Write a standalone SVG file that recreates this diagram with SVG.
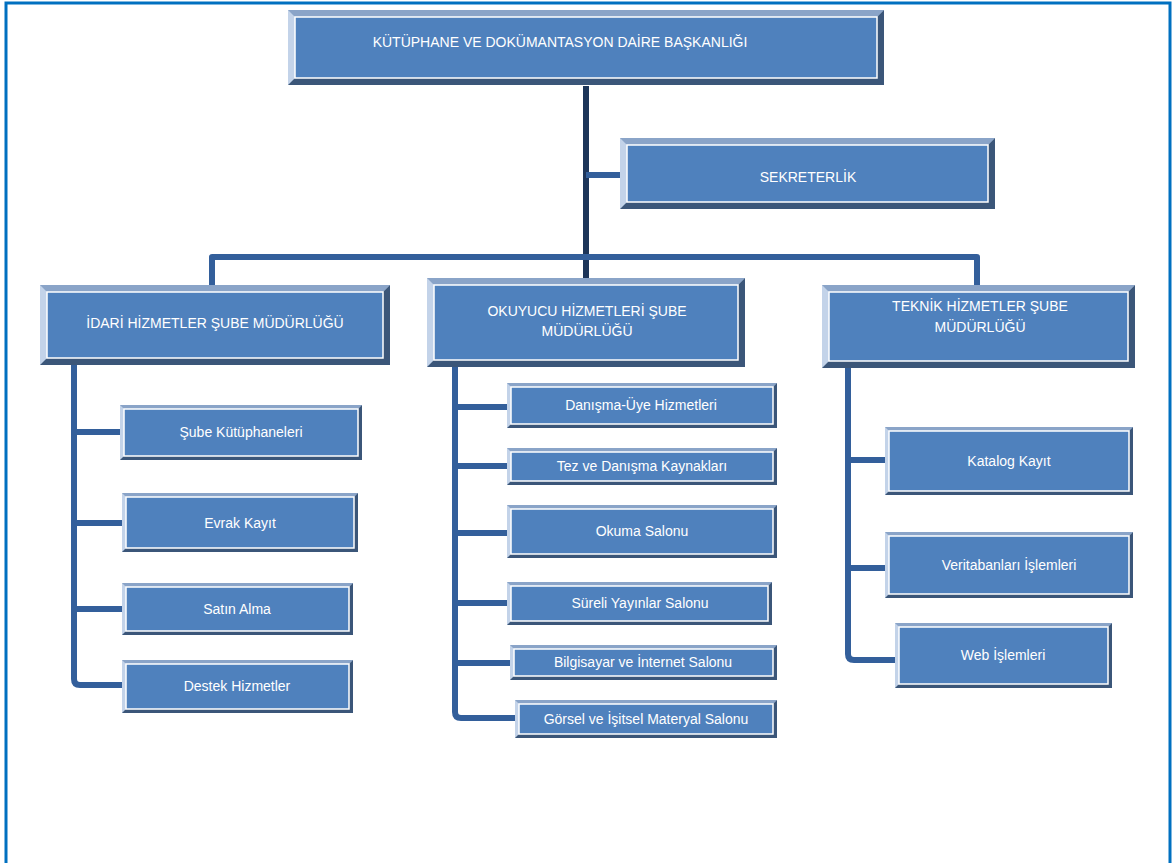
<svg xmlns="http://www.w3.org/2000/svg" width="1173" height="863" viewBox="0 0 1173 863">
<style>
.o{fill:#c3d3e9}
.t{fill:#8aa4c8}
.d{fill:#3b5679}
.i{fill:#4f81bd;stroke:#ffffff;stroke-width:1.5}
.c{fill:none;stroke:#335f9b;stroke-width:6;stroke-linejoin:round}
.k{fill:none;stroke:#1d3559;stroke-width:6}
.tx{font-family:"Liberation Sans",Arial,sans-serif;fill:#ffffff;text-anchor:middle}
.l1{font-size:14px}
.l3{font-size:14px}
</style>
<rect x="0" y="0" width="1173" height="863" fill="#ffffff"/>
<path d="M6,866 V3 H1170 V866" fill="none" stroke="#0070c0" stroke-width="3"/>

<g id="connectors">
<path class="k" d="M586,86 V278"/>
<path class="c" d="M586,175 H620"/>
<path class="c" d="M212,285 V257 H977 V285"/>
<path class="c" d="M74,365 V679 Q74,685 80,685 H122"/>
<path class="c" d="M74,432 H120 M74,523 H122 M74,609 H122"/>
<path class="c" d="M455,367 V712 Q455,718 461,718 H515"/>
<path class="c" d="M455,407 H507 M455,466 H507 M455,533 H507 M455,603 H507 M455,663 H510"/>
<path class="c" d="M848,368 V654 Q848,660 854,660 H895"/>
<path class="c" d="M848,460 H885 M848,568 H885"/>
</g>

<g id="n-top">
<rect class="o" x="288" y="10" width="596" height="75"/>
<polygon class="t" points="288,10 884,10 877,17 295,17"/>
<polygon class="d" points="884,10 884,85 288,85 295,78 877,78 877,17"/>
<rect class="i" x="295" y="17" width="582" height="61"/>
<text class="tx l1" x="560" y="47">KÜTÜPHANE VE DOKÜMANTASYON DAİRE BAŞKANLIĞI</text>
</g>

<g id="n-sekreterlik">
<rect class="o" x="620" y="138" width="375" height="71"/>
<polygon class="t" points="620,138 995,138 988,145 627,145"/>
<polygon class="d" points="995,138 995,209 620,209 627,202 988,202 988,145"/>
<rect class="i" x="627" y="145" width="361" height="57"/>
<text class="tx l1" x="808" y="182">SEKRETERLİK</text>
</g>

<g id="n-idari">
<rect class="o" x="40" y="285" width="350" height="80"/>
<polygon class="t" points="40,285 390,285 383,292 47,292"/>
<polygon class="d" points="390,285 390,365 40,365 47,358 383,358 383,292"/>
<rect class="i" x="47" y="292" width="336" height="66"/>
<text class="tx l1" x="215" y="328">İDARİ HİZMETLER ŞUBE MÜDÜRLÜĞÜ</text>
</g>

<g id="n-okuyucu">
<rect class="o" x="427" y="278" width="318" height="89"/>
<polygon class="t" points="427,278 745,278 738,285 434,285"/>
<polygon class="d" points="745,278 745,367 427,367 434,360 738,360 738,285"/>
<rect class="i" x="434" y="285" width="304" height="75"/>
<text class="tx l1" x="587" y="316">OKUYUCU HİZMETLERİ ŞUBE</text>
<text class="tx l1" x="587" y="336">MÜDÜRLÜĞÜ</text>
</g>

<g id="n-teknik">
<rect class="o" x="822" y="285" width="313" height="83"/>
<polygon class="t" points="822,285 1135,285 1128,292 829,292"/>
<polygon class="d" points="1135,285 1135,368 822,368 829,361 1128,361 1128,292"/>
<rect class="i" x="829" y="292" width="299" height="69"/>
<text class="tx l1" x="980" y="311">TEKNİK HİZMETLER ŞUBE</text>
<text class="tx l1" x="980" y="332">MÜDÜRLÜĞÜ</text>
</g>

<g id="n-sube">
<rect class="o" x="120" y="405" width="242" height="55"/>
<polygon class="t" points="120,405 362,405 358,409 124,409"/>
<polygon class="d" points="362,405 362,460 120,460 124,456 358,456 358,409"/>
<rect class="i" x="124" y="409" width="234" height="47"/>
<text class="tx l3" x="241" y="437">Şube Kütüphaneleri</text>
</g>

<g id="n-evrak">
<rect class="o" x="122" y="493" width="236" height="59"/>
<polygon class="t" points="122,493 358,493 354,497 126,497"/>
<polygon class="d" points="358,493 358,552 122,552 126,548 354,548 354,497"/>
<rect class="i" x="126" y="497" width="228" height="51"/>
<text class="tx l3" x="240" y="528">Evrak Kayıt</text>
</g>

<g id="n-satin">
<rect class="o" x="122" y="583" width="231" height="52"/>
<polygon class="t" points="122,583 353,583 349,587 126,587"/>
<polygon class="d" points="353,583 353,635 122,635 126,631 349,631 349,587"/>
<rect class="i" x="126" y="587" width="223" height="44"/>
<text class="tx l3" x="237" y="614">Satın Alma</text>
</g>

<g id="n-destek">
<rect class="o" x="122" y="660" width="231" height="53"/>
<polygon class="t" points="122,660 353,660 349,664 126,664"/>
<polygon class="d" points="353,660 353,713 122,713 126,709 349,709 349,664"/>
<rect class="i" x="126" y="664" width="223" height="45"/>
<text class="tx l3" x="237" y="691">Destek Hizmetler</text>
</g>

<g id="n-danisma">
<rect class="o" x="507" y="383" width="270" height="45"/>
<polygon class="t" points="507,383 777,383 773,387 511,387"/>
<polygon class="d" points="777,383 777,428 507,428 511,424 773,424 773,387"/>
<rect class="i" x="511" y="387" width="262" height="37"/>
<text class="tx l3" x="641" y="410">Danışma-Üye Hizmetleri</text>
</g>

<g id="n-tez">
<rect class="o" x="507" y="448" width="270" height="37"/>
<polygon class="t" points="507,448 777,448 773,452 511,452"/>
<polygon class="d" points="777,448 777,485 507,485 511,481 773,481 773,452"/>
<rect class="i" x="511" y="452" width="262" height="29"/>
<text class="tx l3" x="642" y="471">Tez ve Danışma Kaynakları</text>
</g>

<g id="n-okuma">
<rect class="o" x="507" y="505" width="270" height="53"/>
<polygon class="t" points="507,505 777,505 773,509 511,509"/>
<polygon class="d" points="777,505 777,558 507,558 511,554 773,554 773,509"/>
<rect class="i" x="511" y="509" width="262" height="45"/>
<text class="tx l3" x="642" y="536">Okuma Salonu</text>
</g>

<g id="n-sureli">
<rect class="o" x="507" y="582" width="265" height="43"/>
<polygon class="t" points="507,582 772,582 768,586 511,586"/>
<polygon class="d" points="772,582 772,625 507,625 511,621 768,621 768,586"/>
<rect class="i" x="511" y="586" width="257" height="35"/>
<text class="tx l3" x="640" y="608">Süreli Yayınlar Salonu</text>
</g>

<g id="n-bilgisayar">
<rect class="o" x="510" y="645" width="267" height="35"/>
<polygon class="t" points="510,645 777,645 773,649 514,649"/>
<polygon class="d" points="777,645 777,680 510,680 514,676 773,676 773,649"/>
<rect class="i" x="514" y="649" width="259" height="27"/>
<text class="tx l3" x="643" y="667">Bilgisayar ve İnternet Salonu</text>
</g>

<g id="n-gorsel">
<rect class="o" x="515" y="700" width="262" height="38"/>
<polygon class="t" points="515,700 777,700 773,704 519,704"/>
<polygon class="d" points="777,700 777,738 515,738 519,734 773,734 773,704"/>
<rect class="i" x="519" y="704" width="254" height="30"/>
<text class="tx l3" x="646" y="724">Görsel ve İşitsel Materyal Salonu</text>
</g>

<g id="n-katalog">
<rect class="o" x="885" y="427" width="248" height="68"/>
<polygon class="t" points="885,427 1133,427 1129,431 889,431"/>
<polygon class="d" points="1133,427 1133,495 885,495 889,491 1129,491 1129,431"/>
<rect class="i" x="889" y="431" width="240" height="60"/>
<text class="tx l3" x="1009" y="466">Katalog Kayıt</text>
</g>

<g id="n-veritabani">
<rect class="o" x="885" y="532" width="248" height="66"/>
<polygon class="t" points="885,532 1133,532 1129,536 889,536"/>
<polygon class="d" points="1133,532 1133,598 885,598 889,594 1129,594 1129,536"/>
<rect class="i" x="889" y="536" width="240" height="58"/>
<text class="tx l3" x="1009" y="570">Veritabanları İşlemleri</text>
</g>

<g id="n-web">
<rect class="o" x="895" y="623" width="217" height="65"/>
<polygon class="t" points="895,623 1112,623 1108,627 899,627"/>
<polygon class="d" points="1112,623 1112,688 895,688 899,684 1108,684 1108,627"/>
<rect class="i" x="899" y="627" width="209" height="57"/>
<text class="tx l3" x="1003" y="660">Web İşlemleri</text>
</g>
</svg>
